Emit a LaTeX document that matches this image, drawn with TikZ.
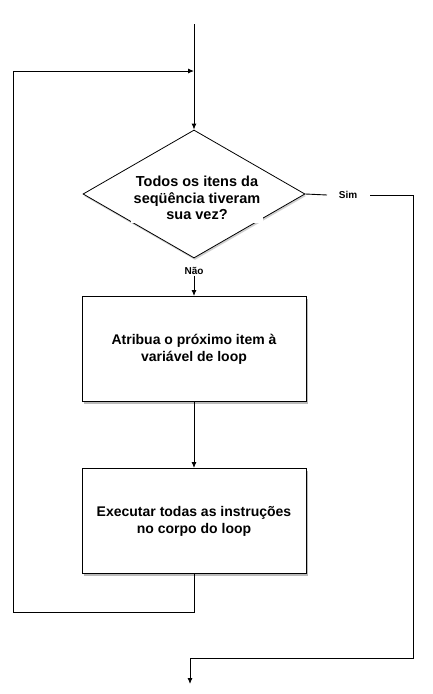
\documentclass[tikz,border=0pt]{standalone}
\usepackage{fontspec}
\setmainfont{Liberation Sans}
\usetikzlibrary{shapes.geometric,arrows.meta,shadows}
\begin{document}
\begin{tikzpicture}[x=1pt,y=-1pt,
  line/.style={draw=black,line width=0.9pt},
  arr/.style={line,-{Latex[length=6pt,width=5pt]}},
  procbox/.style={draw=black,line width=1pt,fill=white,minimum width=224pt,minimum height=105pt,
    font=\bfseries\fontsize{14}{17}\selectfont,align=center,
    drop shadow={shadow xshift=1.5pt,shadow yshift=-2.5pt,opacity=0.45,fill=black!60}},
  decision/.style={diamond,draw=black,line width=0.8pt,fill=white,minimum width=222pt,minimum height=128pt,inner sep=0pt,
    drop shadow={shadow xshift=1pt,shadow yshift=-2pt,opacity=0.3,fill=black!60}},
  qtext/.style={fill=white,inner sep=3pt,font=\bfseries\fontsize{14.5}{16.5}\selectfont,align=center},
  small/.style={font=\bfseries\fontsize{10}{12}\selectfont,fill=white,inner sep=1pt}
]
\useasboundingbox[fill=white] (0,0) rectangle (433,694);
\coordinate (start) at (194,24);
\coordinate (join) at (194,71);
\node[decision] (dec) at (194,194) {};
\node[qtext] (qt) at (197,198) {Todos os itens da\\seqüência tiveram\\sua vez?};
\node[small] (nao) at (194,271) {Não};
\node[small] (sim) at (348,195) {Sim};
\node[procbox] (b1) at (194,349) {Atribua o próximo item à\\variável de loop};
\node[procbox] (b2) at (194,521) {Executar todas as instruções\\no corpo do loop};
\coordinate (lb) at (194,612);
\coordinate (ll) at (13,612);
\coordinate (lt) at (13,71);
\coordinate (s1) at (327,195);
\coordinate (s2) at (370,195);
\coordinate (r1) at (413,195);
\coordinate (r2) at (413,658);
\coordinate (r3) at (190,658);
\coordinate (endpt) at (190,684);

\draw[arr] (start) -- (dec.north);
\draw[line] (dec.east) -- (s1);
\draw[line] (s2) -- (r1) -- (r2) -- (r3);
\draw[arr] (r3) -- (endpt);
\draw[arr] (nao.south) -- (b1.north);
\draw[arr] (b1.south) -- (b2.north);
\draw[line] (b2.south) -- (lb) -- (ll) -- (lt);
\draw[arr] (lt) -- (join);
\end{tikzpicture}
\end{document}
